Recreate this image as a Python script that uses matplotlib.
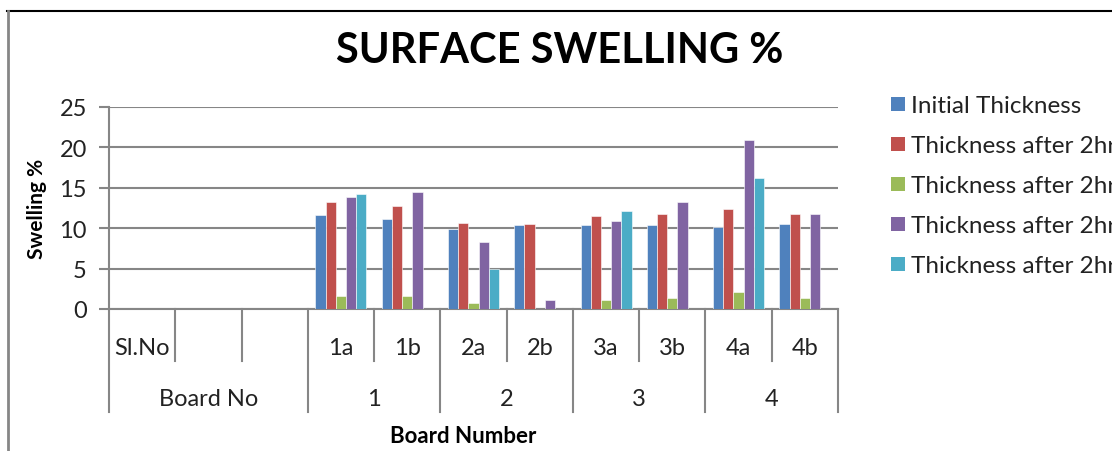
import numpy as np
import matplotlib
matplotlib.use("Agg")
import matplotlib.pyplot as plt
import matplotlib.transforms as mtransforms
from matplotlib.patches import Rectangle
from matplotlib.lines import Line2D

# categories on the lower axis (first three belong to the "Board No" header block)
categories = ["Sl.No", "", "", "1a", "1b", "2a", "2b", "3a", "3b", "4a", "4b"]
groups = [("Board No", 0, 2), ("1", 3, 4), ("2", 5, 6), ("3", 7, 8), ("4", 9, 10)]

series_names = [
    "Initial Thickness",
    "Thickness after 2hrs",
    "Thickness after 2hrs",
    "Thickness after 2hrs",
    "Thickness after 2hrs",
]
nan = np.nan
initial = [nan, nan, nan, 11.6, 11.1, 9.9, 10.4, 10.4, 10.4, 10.2, 10.5]
after_a = [nan, nan, nan, 13.2, 12.8, 10.7, 10.5, 11.5, 11.8, 12.4, 11.8]
after_b = [nan, nan, nan, 1.6, 1.6, 0.8, nan, 1.1, 1.3, 2.1, 1.3]
after_c = [nan, nan, nan, 13.9, 14.5, 8.3, 1.1, 10.9, 13.2, 20.9, 11.8]
after_d = [nan, nan, nan, 14.2, nan, 4.9, nan, 12.1, nan, 16.2, nan]
series = [initial, after_a, after_b, after_c, after_d]
colors = ["#4F81BD", "#C0504D", "#9BBB59", "#8064A2", "#4BACC6"]

FONT = "Lato"
GRID = "#868686"
TXT = "#222222"
W, H = 1112, 452

fig = plt.figure(figsize=(W / 100, H / 100), dpi=100)
fig.patch.set_facecolor("white")

# plot area in pixels: x 109..838, y 108..310
ax = fig.add_axes([109 / W, 1 - 310 / H, (838 - 109) / W, (310 - 108) / H])

n = len(categories)
x = np.arange(n)
bw = 1 / 6.5
for i, (vals, col) in enumerate(zip(series, colors)):
    ax.bar(x + (i - 2) * bw, vals, width=bw, color=col, edgecolor="white",
           linewidth=0.4, zorder=3)

ax.set_xlim(-0.5, n - 0.5)
ax.set_ylim(0, 25)
ax.set_yticks(range(0, 26, 5))
ax.yaxis.grid(True, color=GRID, linewidth=1.5, zorder=0)
ax.set_axisbelow(True)
for side in ["top", "right"]:
    ax.spines[side].set_visible(False)
for side in ["left", "bottom"]:
    ax.spines[side].set_color(GRID)
    ax.spines[side].set_linewidth(1.5)
ax.tick_params(axis="y", length=7, width=1.5, color=GRID, pad=9,
               labelsize=17, labelcolor=TXT)
for lab in ax.get_yticklabels():
    lab.set_fontfamily(FONT)
ax.set_xticks([])

ax.set_ylabel("Swelling %", fontsize=15, fontweight="bold", family=FONT)
ax.yaxis.set_label_coords((47 - 109) / (838 - 109), 0.5)

# multi-level category axis drawn below the plot
trans = mtransforms.blended_transform_factory(ax.transData, fig.transFigure)


def fy(py):
    return 1 - py / H


long_edges = [-0.5] + [g[2] + 0.5 for g in groups]
short_edges = [b + 0.5 for _, a, b in groups for b in range(a, b)]
for e in short_edges:
    ax.add_line(Line2D([e, e], [fy(310), fy(362)], transform=trans, color=GRID,
                       linewidth=1.5, clip_on=False))
for e in long_edges:
    ax.add_line(Line2D([e, e], [fy(310), fy(413)], transform=trans, color=GRID,
                       linewidth=1.5, clip_on=False))

for xi, lab in zip(x, categories):
    ax.text(xi, fy(355), lab, transform=trans, ha="center", va="baseline",
            fontsize=17, family=FONT, color=TXT)
for name, a, b in groups:
    ax.text((a + b) / 2, fy(406), name, transform=trans, ha="center",
            va="baseline", fontsize=17, family=FONT, color=TXT)

fig.text(463 / W, fy(443), "Board Number", ha="center", va="baseline",
         fontsize=16, fontweight="bold", family=FONT)

fig.text(560 / W, fy(63.3), "SURFACE SWELLING %", ha="center", va="baseline",
         fontsize=30, fontweight="bold", family=FONT)

# legend on the right, running off the edge of the chart
for k, (name, col) in enumerate(zip(series_names, colors)):
    cy = 105 + 40 * k
    fig.patches.append(Rectangle((891 / W, fy(cy + 7)), 14 / W, 14 / H,
                                 transform=fig.transFigure, facecolor=col,
                                 edgecolor="none"))
    fig.text(911 / W, fy(cy + 8), name, ha="left", va="baseline",
             fontsize=17.5, family=FONT, color=TXT)

# chart frame
fig.add_artist(Line2D([7 / W, 1], [fy(12), fy(12)], transform=fig.transFigure,
                      color="black", linewidth=1.5))
fig.add_artist(Line2D([7.5 / W, 7.5 / W], [fy(12), 0], transform=fig.transFigure,
                      color=GRID, linewidth=2))

fig.savefig("out.png", dpi=100)
